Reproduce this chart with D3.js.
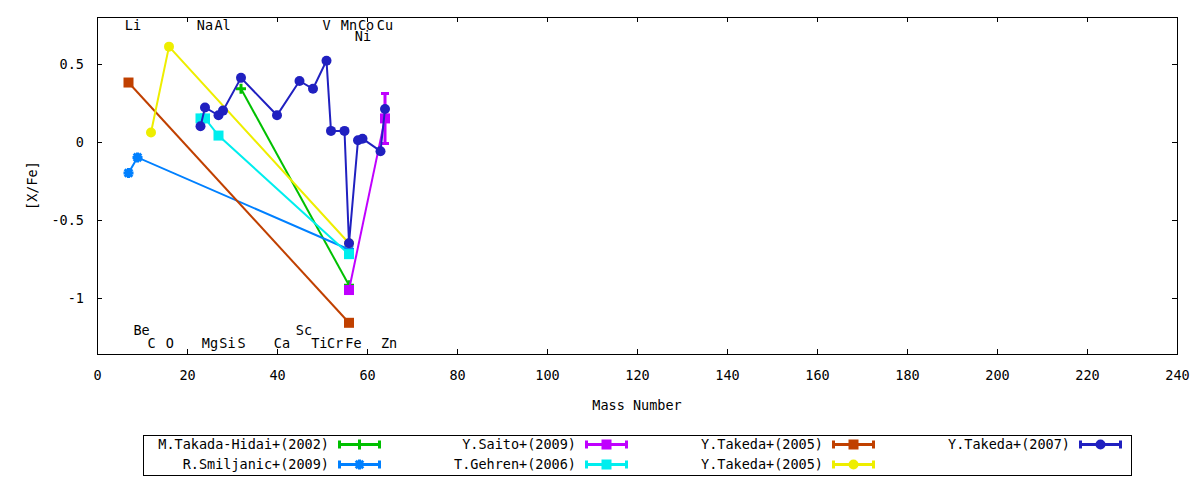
<!DOCTYPE html>
<html lang="en">
<head>
<meta charset="UTF-8">
<title>[X/Fe] vs Mass Number</title>
<script src="https://cdn.jsdelivr.net/npm/d3@7"></script>
<style>
  body { margin: 0; background: #fff; }
  text { font-family: "DejaVu Sans Mono", monospace; font-size: 13.5px; fill: #000; }
</style>
</head>
<body>
<script>
// series names, colours and marker types
var names = ["M.Takada-Hidai+(2002)", "R.Smiljanic+(2009)", "Y.Saito+(2009)", "T.Gehren+(2006)",
             "Y.Takeda+(2005)", "Y.Takeda+(2005)", "Y.Takeda+(2007)"];
var colors = ["#00c000", "#0080ff", "#c000ff", "#00eeee", "#c04000", "#eeee00", "#2020c0"];
var markers = ["plus", "star", "square", "square", "square", "circle", "circle"];

// mass numbers, [X/Fe] values and errors, one array per series
var massTakadaHidai = [32, 56];
var valTakadaHidai  = [0.34, -0.92];
var errTakadaHidai  = [0, 0];

var massSmiljanic = [7, 9, 56];
var valSmiljanic  = [-0.20, -0.10, -0.69];
var errSmiljanic  = [0, 0, 0];

var massSaito = [56, 64];
var valSaito  = [-0.95, 0.15];
var errSaito  = [0, 0.16];

var massGehren = [23, 24, 27, 56];
var valGehren  = [0.15, 0.15, 0.04, -0.72];
var errGehren  = [0, 0, 0, 0];

var massTakeda05a = [7, 56];
var valTakeda05a  = [0.38, -1.16];
var errTakeda05a  = [0, 0];

var massTakeda05b = [12, 16, 56];
var valTakeda05b  = [0.06, 0.61, -0.65];
var errTakeda05b  = [0, 0, 0];

var massTakeda07 = [23, 24, 27, 28, 32, 40, 45, 48, 51, 52, 55, 56, 58, 59, 63, 64];
var valTakeda07  = [0.10, 0.22, 0.17, 0.20, 0.41, 0.17, 0.39, 0.34, 0.52, 0.07, 0.07, -0.65, 0.01, 0.02, -0.06, 0.21];
var errTakeda07  = [0, 0, 0, 0, 0, 0, 0, 0, 0, 0, 0, 0, 0, 0, 0, 0];

// element labels: name, x (mass), y ([X/Fe])
var elemNames = ["Li", "Na", "Al", "V", "Mn", "Co", "Cu", "Ni",
                 "Be", "Sc", "C", "O", "Mg", "Si", "S", "Ca", "Ti", "Cr", "Fe", "Zn"];
var elemX = [8, 24, 27.9, 51, 56, 59.8, 64, 59.1,
             9.9, 46, 12.1, 16.2, 25.1, 29, 32.1, 41.1, 49.4, 52.9, 57, 64.9];
var elemY = [0.745, 0.745, 0.745, 0.745, 0.745, 0.745, 0.745, 0.68,
             -1.21, -1.21, -1.293, -1.293, -1.293, -1.293, -1.293, -1.293, -1.293, -1.293, -1.293, -1.293];

var xTicks = [0, 20, 40, 60, 80, 100, 120, 140, 160, 180, 200, 220, 240];
var yTicks = [0.5, 0, -0.5, -1];

var masses = [massTakadaHidai, massSmiljanic, massSaito, massGehren, massTakeda05a, massTakeda05b, massTakeda07];
var vals   = [valTakadaHidai, valSmiljanic, valSaito, valGehren, valTakeda05a, valTakeda05b, valTakeda07];
var errs   = [errTakadaHidai, errSmiljanic, errSaito, errGehren, errTakeda05a, errTakeda05b, errTakeda07];

var series = names.map(function(n, i) {
    return {
        name: n, color: colors[i], marker: markers[i],
        points: masses[i].map(function(m, j) { return {m: m, v: vals[i][j], e: errs[i][j]}; })
    };
});

var w = 1200, h = 480;
var pLeft = 97, pRight = 1177, pTop = 17, pBottom = 354;

var svg = d3.select("body").append("svg")
    .attr("width", w)
    .attr("height", h);

var x = d3.scaleLinear().domain([0, 240]).range([pLeft, pRight]);
var y = d3.scaleLinear().domain([-1.36, 0.8]).range([pBottom, pTop]);

// axes (ticks inside, mirrored)
var fmt = function(d) { return String(d); };
svg.append("g").attr("transform", "translate(0," + pBottom + ")")
    .call(d3.axisBottom(x).tickValues(xTicks).tickSizeInner(-5).tickSizeOuter(0).tickPadding(16).tickFormat(fmt));
svg.append("g").attr("transform", "translate(0," + pTop + ")")
    .call(d3.axisTop(x).tickValues(xTicks).tickSizeInner(-5).tickSizeOuter(0).tickFormat(""));
svg.append("g").attr("transform", "translate(" + pLeft + ",0)")
    .call(d3.axisLeft(y).tickValues(yTicks).tickSizeInner(-5).tickSizeOuter(0).tickPadding(13).tickFormat(fmt));
svg.append("g").attr("transform", "translate(" + pRight + ",0)")
    .call(d3.axisRight(y).tickValues(yTicks).tickSizeInner(-5).tickSizeOuter(0).tickFormat(""));

svg.selectAll(".domain").remove();
svg.selectAll(".tick line").attr("stroke", "#000").attr("stroke-width", 1).attr("shape-rendering", "crispEdges");
svg.selectAll(".tick text").style("font-family", "DejaVu Sans Mono").style("font-size", "13.5px").attr("fill", "#000");

svg.append("rect")
    .attr("x", pLeft).attr("y", pTop)
    .attr("width", pRight - pLeft).attr("height", pBottom - pTop)
    .attr("fill", "none").attr("stroke", "#000").attr("stroke-width", 1)
    .attr("shape-rendering", "crispEdges");

// axis titles
svg.append("text")
    .attr("x", (pLeft + pRight) / 2).attr("y", 410)
    .attr("text-anchor", "middle")
    .text("Mass Number");
svg.append("text")
    .attr("transform", "translate(37," + ((pTop + pBottom) / 2) + ") rotate(-90)")
    .attr("text-anchor", "middle")
    .text("[X/Fe]");

// element labels
svg.append("g").selectAll("text")
    .data(elemNames)
    .enter()
    .append("text")
    .attr("x", function(d, i) { return x(elemX[i]); })
    .attr("y", function(d, i) { return y(elemY[i]); })
    .attr("dy", "0.36em")
    .attr("text-anchor", "middle")
    .text(function(d) { return d; });

function drawMarker(g, type, color, cx, cy, s) {
    if (type === "square") {
        g.append("rect").attr("x", cx - s).attr("y", cy - s)
            .attr("width", 2 * s).attr("height", 2 * s).attr("fill", color);
    } else if (type === "circle") {
        g.append("circle").attr("cx", cx).attr("cy", cy).attr("r", s).attr("fill", color);
    } else if (type === "plus") {
        g.append("path")
            .attr("d", "M" + (cx - s) + "," + cy + "H" + (cx + s) + "M" + cx + "," + (cy - s) + "V" + (cy + s))
            .attr("stroke", color).attr("stroke-width", 3).attr("fill", "none");
    } else if (type === "star") {
        var d = s * 0.75;
        g.append("path")
            .attr("d", "M" + (cx - s) + "," + cy + "H" + (cx + s) + "M" + cx + "," + (cy - s) + "V" + (cy + s) +
                  "M" + (cx - d) + "," + (cy - d) + "L" + (cx + d) + "," + (cy + d) +
                  "M" + (cx - d) + "," + (cy + d) + "L" + (cx + d) + "," + (cy - d))
            .attr("stroke", color).attr("stroke-width", 3).attr("fill", "none");
    }
}

var line = d3.line()
    .x(function(d) { return x(d.m); })
    .y(function(d) { return y(d.v); });

// series: line, error bars, markers, in plotting order
series.forEach(function(s) {
    var g = svg.append("g");
    g.append("path")
        .datum(s.points)
        .attr("d", line)
        .attr("fill", "none")
        .attr("stroke", s.color)
        .attr("stroke-width", 2);

    s.points.filter(function(p) { return p.e > 0; }).forEach(function(p) {
        var px = x(p.m);
        g.append("path")
            .attr("d", "M" + px + "," + y(p.v - p.e) + "V" + y(p.v + p.e) +
                  "M" + (px - 4) + "," + y(p.v - p.e) + "H" + (px + 4) +
                  "M" + (px - 4) + "," + y(p.v + p.e) + "H" + (px + 4))
            .attr("stroke", s.color).attr("stroke-width", 3).attr("fill", "none");
    });

    s.points.forEach(function(p) {
        drawMarker(g, s.marker, s.color, x(p.m), y(p.v), 5);
    });
});

// legend: 4 columns, filled top to bottom
var legTop = 435, legBottom = 475, legLeft = 143, legRight = 1131;
svg.append("rect")
    .attr("x", legLeft).attr("y", legTop)
    .attr("width", legRight - legLeft).attr("height", legBottom - legTop)
    .attr("fill", "none").attr("stroke", "#000").attr("stroke-width", 1)
    .attr("shape-rendering", "crispEdges");

var rowY = [444.5, 464.5];
series.forEach(function(s, i) {
    var col = Math.floor(i / 2), row = i % 2;
    var sx = 338 + 247 * col, sy = rowY[row], sw = 43;
    var g = svg.append("g");
    g.append("text")
        .attr("x", sx - 9).attr("y", sy)
        .attr("dy", "0.36em")
        .attr("text-anchor", "end")
        .text(s.name);
    g.append("path")
        .attr("d", "M" + sx + "," + sy + "H" + (sx + sw) +
              "M" + (sx + 1.5) + "," + (sy - 4) + "V" + (sy + 4) +
              "M" + (sx + sw - 1.5) + "," + (sy - 4) + "V" + (sy + 4))
        .attr("stroke", s.color).attr("stroke-width", 3).attr("fill", "none");
    drawMarker(g, s.marker, s.color, sx + sw / 2, sy, 5);
});
</script>
</body>
</html>
